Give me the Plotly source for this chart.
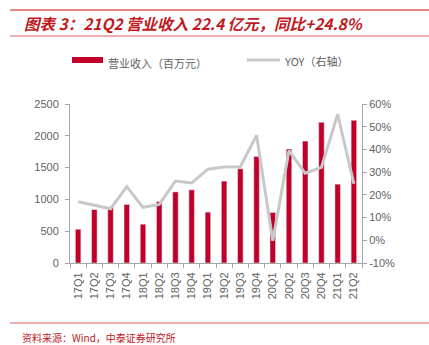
import plotly.graph_objects as go

quarters = ["17Q1","17Q2","17Q3","17Q4","18Q1","18Q2","18Q3","18Q4","19Q1","19Q2",
            "19Q3","19Q4","20Q1","20Q2","20Q3","20Q4","21Q1","21Q2"]
revenue = [531, 841, 882, 920, 610, 967, 1118, 1150, 799, 1287,
           1481, 1676, 794, 1791, 1917, 2212, 1240, 2243]
yoy = [17.0, 15.5, 13.9, 23.6, 14.5, 15.8, 26.1, 25.2, 31.3, 32.3,
       32.4, 46.2, -0.2, 39.5, 29.5, 32.1, 55.5, 24.8]
left_ticks = [0, 500, 1000, 1500, 2000, 2500]
right_ticks = [-10, 0, 10, 20, 30, 40, 50, 60]

W, H = 429, 345
L, R, T, B = 70, 362, 104, 263

BAR = "#C00028"
LINE = "#C8C8C8"
RED = "#C0181E"
GRAY = "#5F5F5F"

def px(x):
    return (x - L) / (R - L)

def py(y):
    return (B - y) / (B - T)

fig = go.Figure()
fig.add_trace(go.Bar(x=quarters, y=revenue, marker_color=BAR, name="营业收入（百万元）",
                     showlegend=False, yaxis="y"))
fig.add_trace(go.Scatter(x=quarters, y=yoy, mode="lines", line=dict(color=LINE, width=3),
                         name="YOY（右轴）", showlegend=False, yaxis="y2"))

axis_font = dict(family="Liberation Sans, Arial", size=11, color=GRAY)
fig.update_layout(
    width=W, height=H,
    margin=dict(l=L, r=W - R, t=T, b=H - B),
    paper_bgcolor="white", plot_bgcolor="white",
    bargap=0.66,
    xaxis=dict(type="category", tickangle=-90, tickfont=dict(family="Liberation Sans, Arial", size=11, color=GRAY),
               showline=True, linecolor="#A6A6A6", linewidth=1, ticks="outside", tickson="boundaries",
               ticklen=4, tickcolor="#A6A6A6", showgrid=False, zeroline=False, ticklabelstandoff=4),
    yaxis=dict(range=[0, 2500], tickvals=left_ticks, tickfont=axis_font, showline=True,
               linecolor="#A6A6A6", ticks="outside", ticklen=4, tickcolor="#A6A6A6",
               showgrid=False, zeroline=False, ticklabelstandoff=4),
    yaxis2=dict(range=[-10, 60], tickvals=right_ticks, ticktext=[f"{v}%" for v in right_ticks],
                overlaying="y", side="right", tickfont=axis_font, showline=True,
                linecolor="#A6A6A6", ticks="outside", ticklen=4, tickcolor="#A6A6A6",
                showgrid=False, zeroline=False),
)

shapes = []
for yy, col, w in [(10, "#D86060", 1.5), (36, "#D86060", 1.2), (323, "#D86060", 1.2)]:
    shapes.append(dict(type="line", xref="paper", yref="paper", x0=px(10), x1=px(429),
                       y0=py(yy), y1=py(yy), line=dict(color=col, width=w)))
# legend swatches
shapes.append(dict(type="rect", xref="paper", yref="paper", x0=px(72), x1=px(103),
                   y0=py(63), y1=py(57), fillcolor=BAR, line=dict(width=0)))
shapes.append(dict(type="line", xref="paper", yref="paper", x0=px(247), x1=px(280),
                   y0=py(60), y1=py(60), line=dict(color=LINE, width=3)))
fig.update_layout(shapes=shapes)

ann = [
    dict(text="<b><i>图表 3：21Q2 营业收入 22.4 亿元，同比+24.8%</i></b>", x=px(22), y=py(23),
         xanchor="left", yanchor="middle", font=dict(family="Noto Sans CJK SC", size=15.5, color=RED)),
    dict(text="营业收入（百万元）", x=px(106), y=py(63), xanchor="left", yanchor="middle",
         font=dict(family="Noto Sans CJK SC", size=11, color=GRAY)),
    dict(text="YOY（右轴）", x=px(282), y=py(61), xanchor="left", yanchor="middle",
         font=dict(family="Noto Sans CJK SC", size=11, color=GRAY)),
    dict(text="资料来源：Wind，中泰证券研究所", x=px(20), y=py(337), xanchor="left", yanchor="middle",
         font=dict(family="Noto Sans CJK SC", size=10, color=RED)),
]
for a in ann:
    a.update(xref="paper", yref="paper", showarrow=False)
fig.update_layout(annotations=ann)

fig.write_html("out.html")
